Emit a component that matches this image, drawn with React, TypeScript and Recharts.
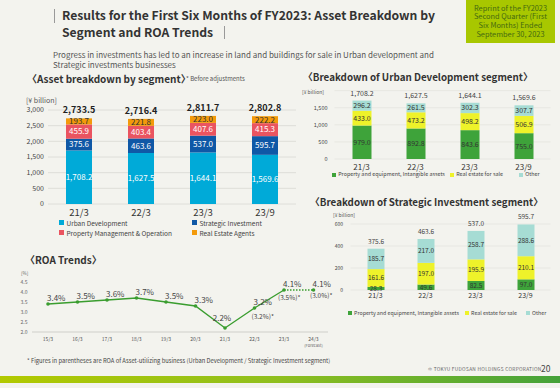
import React from 'react';
import { BarChart, Bar, XAxis, YAxis, CartesianGrid, LabelList, LineChart, Line } from 'recharts';

const FONT = '"Noto Sans CJK JP", "Noto Sans", sans-serif';

// ---- Asset breakdown by segment ----
const periods = ['21/3', '22/3', '23/3', '23/9'];
const urbanDev = [1708.2, 1627.5, 1644.1, 1569.6];
const strategicInv = [375.6, 463.6, 537.0, 595.7];
const propertyMgmt = [455.9, 403.4, 407.6, 415.3];
const realEstateAgents = [193.7, 221.8, 223.0, 222.2];
const assetTotals = [2733.5, 2716.4, 2811.7, 2802.8];
const assetTicks = [0, 500, 1000, 1500, 2000, 2500, 3000];

// ---- Urban Development breakdown ----
const udProperty = [979.0, 892.8, 843.6, 755.0];
const udForSale = [433.0, 473.2, 498.2, 506.9];
const udOther = [296.2, 261.5, 302.3, 307.7];
const udTotals = [1708.2, 1627.5, 1644.1, 1569.6];
const udTicks = [0, 500, 1000, 1500];

// ---- Strategic Investment breakdown ----
const siProperty = [28.3, 49.6, 82.5, 97.0];
const siForSale = [161.6, 197.0, 195.9, 210.1];
const siOther = [185.7, 217.0, 258.7, 288.6];
const siTotals = [375.6, 463.6, 537.0, 595.7];
const siTicks = [0, 200, 400, 600];

// ---- ROA trends ----
const roaPeriods = ['15/3', '16/3', '17/3', '18/3', '19/3', '20/3', '21/3', '22/3', '23/3', '24/3'];
const roaActual = [3.4, 3.5, 3.6, 3.7, 3.5, 3.3, 2.2, 3.2, 4.1, null];
const roaForecast = [null, null, null, null, null, null, null, null, 4.1, 4.1];
const roaAssetUtil = [null, null, null, null, null, null, null, 3.2, 3.5, 3.0];
const roaTicks = [2.0, 2.5, 3.0, 3.5, 4.0, 4.5];

const C = {
  urban: '#00aad8',
  strategic: '#0f58a6',
  pm: '#ea5460',
  agents: '#f39a0a',
  prop: '#3ea33a',
  sale: '#eef22a',
  other: '#a6dcd4',
  line: '#3a9d2f',
};

const assetData = periods.map((p, i) => ({
  period: p,
  urban: urbanDev[i],
  strategic: strategicInv[i],
  pm: propertyMgmt[i],
  agents: realEstateAgents[i],
  total: assetTotals[i],
}));
const udData = periods.map((p, i) => ({
  period: p,
  prop: udProperty[i],
  sale: udForSale[i],
  other: udOther[i],
  total: udTotals[i],
}));
const siData = periods.map((p, i) => ({
  period: p,
  prop: siProperty[i],
  sale: siForSale[i],
  other: siOther[i],
  total: siTotals[i],
}));
const roaData = roaPeriods.map((p, i) => ({
  period: p,
  actual: roaActual[i],
  forecast: roaForecast[i],
  asset: roaAssetUtil[i],
}));

const fmt1 = (v: any) =>
  typeof v === 'number' ? v.toLocaleString('en-US', { minimumFractionDigits: 1, maximumFractionDigits: 1 }) : v;
const fmtInt = (v: any) => (typeof v === 'number' ? v.toLocaleString('en-US') : v);

const abs = (left: number, top: number, extra: React.CSSProperties = {}): React.CSSProperties => ({
  position: 'absolute',
  left,
  top,
  whiteSpace: 'nowrap',
  ...extra,
});

const LegendItem = ({ color, label, left, top, size }: { color: string; label: string; left: number; top: number; size: number }) => (
  <div style={abs(left, top, { display: 'flex', alignItems: 'center', fontSize: size, color: '#444', lineHeight: 1 })}>
    <span style={{ display: 'inline-block', width: size * 0.8, height: size * 0.8, background: color, marginRight: size * 0.35 }} />
    {label}
  </div>
);

// offsets of the parenthesised asset-utilizing ROA labels, by point index
const assetLabelOffset: Record<number, [number, number]> = {
  7: [-3, 10.5],
  8: [-6, 9.5],
  9: [-3.5, 7.5],
};

const roaDot = (kind: 'actual' | 'forecast') => (props: any) => {
  const { cx, cy, index, payload } = props;
  const v = payload ? payload[kind] : null;
  if (v == null || cx == null || cy == null) return <g key={`${kind}-${index}`} />;
  if (kind === 'forecast' && index !== 9) return <g key={`${kind}-${index}`} />;
  const isLow = kind === 'actual' && index === 6;
  const a = payload.asset;
  const off = assetLabelOffset[index];
  return (
    <g key={`${kind}-${index}`}>
      <circle cx={cx} cy={cy} r={1.8} fill={C.line} />
      <text
        x={isLow ? cx - 3 : cx - 1}
        y={isLow ? cy - 7 : cy - 3}
        fontSize={8}
        fill="#444"
        textAnchor={isLow ? 'middle' : 'start'}
      >
        {`${v.toFixed(1)}%`}
      </text>
      {a != null && off && (
        <text x={cx + off[0]} y={cy + off[1]} fontSize={6.5} fill="#444" textAnchor="start">
          {`(${a.toFixed(1)}%)*`}
        </text>
      )}
    </g>
  );
};

const RoaTick = (props: any) => {
  const { x, y, payload } = props;
  return (
    <g>
      <text x={x} y={y + 5} textAnchor="middle" fontSize={5} fill="#555">
        {payload.value}
      </text>
      {payload.value === '24/3' && (
        <text x={x} y={y + 10.5} textAnchor="middle" fontSize={4} fill="#666">
          (Forecast)
        </text>
      )}
    </g>
  );
};

export default function App() {
  return (
    <div
      style={{
        position: 'absolute',
        left: 0,
        top: 0,
        width: 560,
        height: 388,
        background: '#f3f3ee',
        overflow: 'hidden',
        fontFamily: FONT,
        color: '#333',
      }}
    >
      {/* Title */}
      <div style={abs(54, 9, { width: 1, height: 14, background: '#999' })} />
      <div style={abs(62, 7, { fontSize: 12.2, fontWeight: 700, lineHeight: '17px', color: '#333' })}>
        Results for the First Six Months of FY2023: Asset Breakdown by
        <br />
        Segment and ROA Trends
        <span style={{ display: 'inline-block', width: 1, height: 13, background: '#999', marginLeft: 11, verticalAlign: '-2px' }} />
      </div>
      <div
        style={abs(466, 0, {
          width: 89,
          height: 43,
          background: '#a8c700',
          color: '#456a10',
          fontSize: 7.4,
          lineHeight: '8.8px',
          textAlign: 'center',
          paddingTop: 3.5,
          boxSizing: 'border-box',
          whiteSpace: 'normal',
        })}
      >
        Reprint of the FY2023
        <br />
        Second Quarter (First
        <br />
        Six Months) Ended
        <br />
        September 30, 2023
      </div>
      <div style={abs(53, 50, { fontSize: 8, lineHeight: '10px', color: '#555' })}>
        Progress in investments has led to an increase in land and buildings for sale in Urban development and
        <br />
        Strategic investments businesses
      </div>

      {/* Section titles */}
      <div style={abs(27, 73, { fontSize: 10, fontWeight: 700, lineHeight: '12px' })}>〈Asset breakdown by segment〉</div>
      <div style={abs(186, 75, { fontSize: 6, lineHeight: '8px', color: '#555' })}>* Before adjustments</div>
      <div style={abs(303, 71, { fontSize: 9.8, fontWeight: 700, lineHeight: '12px' })}>〈Breakdown of Urban Development segment〉</div>
      <div style={abs(310, 196, { fontSize: 9.8, fontWeight: 700, lineHeight: '12px' })}>〈Breakdown of Strategic Investment segment〉</div>
      <div style={abs(25, 254, { fontSize: 10, fontWeight: 700, lineHeight: '12px' })}>〈ROA Trends〉</div>

      {/* Asset breakdown chart */}
      <div style={abs(26, 96, { fontSize: 7, color: '#555', lineHeight: '8px' })}>[¥ billion]</div>
      <div style={abs(0, 85)}>
        <BarChart width={300} height={135} data={assetData} margin={{ top: 25, right: 4, left: 0, bottom: 0 }}>
          <CartesianGrid vertical={false} stroke="#d8d8d3" strokeWidth={0.8} />
          <XAxis
            dataKey="period"
            tickLine={false}
            axisLine={false}
            tickSize={0}
            tickMargin={5}
            height={16}
            interval={0}
            tick={{ fontSize: 9.5, fill: '#333' }}
          />
          <YAxis
            domain={[0, 3000]}
            ticks={assetTicks}
            interval={0}
            tickLine={false}
            axisLine={false}
            tickSize={0}
            tickMargin={4}
            width={48}
            tickFormatter={fmtInt}
            tick={{ fontSize: 7, fill: '#444' }}
          />
          <Bar dataKey="urban" stackId="a" fill={C.urban} barSize={26} isAnimationActive={false}>
            <LabelList dataKey="urban" position="center" fill="#fff" fontSize={8} formatter={fmt1} />
          </Bar>
          <Bar dataKey="strategic" stackId="a" fill={C.strategic} barSize={26} isAnimationActive={false}>
            <LabelList dataKey="strategic" position="center" fill="#fff" fontSize={8} formatter={fmt1} />
          </Bar>
          <Bar dataKey="pm" stackId="a" fill={C.pm} barSize={26} isAnimationActive={false}>
            <LabelList dataKey="pm" position="center" fill="#fff" fontSize={8} formatter={fmt1} />
          </Bar>
          <Bar dataKey="agents" stackId="a" fill={C.agents} barSize={26} isAnimationActive={false}>
            <LabelList dataKey="agents" position="center" fill="#333" fontSize={8} formatter={fmt1} />
            <LabelList dataKey="total" position="top" offset={5} fill="#222" fontSize={9} fontWeight={700} formatter={fmt1} />
          </Bar>
        </BarChart>
      </div>
      <LegendItem color={C.urban} label="Urban Development" left={59} top={219.5} size={6.5} />
      <LegendItem color={C.strategic} label="Strategic Investment" left={192} top={219.5} size={6.5} />
      <LegendItem color={C.pm} label="Property Management & Operation" left={59} top={229.5} size={6.5} />
      <LegendItem color={C.agents} label="Real Estate Agents" left={192} top={229.5} size={6.5} />

      {/* Urban Development chart */}
      <div style={abs(302, 89, { fontSize: 5, color: '#555', lineHeight: '6px' })}>[¥ billion]</div>
      <div style={abs(290, 80)}>
        <BarChart width={262} height={93} data={udData} margin={{ top: 10.6, right: 1.5, left: 0, bottom: 0 }}>
          <CartesianGrid vertical={false} stroke="#e2e2dd" strokeWidth={0.7} />
          <XAxis
            dataKey="period"
            tickLine={false}
            axisLine={false}
            tickSize={0}
            tickMargin={5}
            height={14}
            interval={0}
            tick={{ fontSize: 8, fill: '#333' }}
          />
          <YAxis
            domain={[0, 2000]}
            ticks={udTicks}
            interval={0}
            tickLine={false}
            axisLine={false}
            tickSize={0}
            tickMargin={7}
            width={44.5}
            tickFormatter={fmtInt}
            tick={{ fontSize: 5.5, fill: '#444' }}
          />
          <Bar dataKey="prop" stackId="u" fill={C.prop} barSize={19} isAnimationActive={false}>
            <LabelList dataKey="prop" position="center" fill="#333" fontSize={7} formatter={fmt1} />
          </Bar>
          <Bar dataKey="sale" stackId="u" fill={C.sale} barSize={19} isAnimationActive={false}>
            <LabelList dataKey="sale" position="center" fill="#333" fontSize={7} formatter={fmt1} />
          </Bar>
          <Bar dataKey="other" stackId="u" fill={C.other} barSize={19} isAnimationActive={false}>
            <LabelList dataKey="other" position="center" fill="#333" fontSize={7} formatter={fmt1} />
            <LabelList dataKey="total" position="top" offset={5} fill="#444" fontSize={7} formatter={fmt1} />
          </Bar>
        </BarChart>
      </div>
      <LegendItem color={C.prop} label="Property and equipment, Intangible assets" left={332} top={172} size={5.4} />
      <LegendItem color={C.sale} label="Real estate for sale" left={450} top={172} size={5.4} />
      <LegendItem color={C.other} label="Other" left={519} top={172} size={5.4} />

      {/* Strategic Investment chart */}
      <div style={abs(333, 212, { fontSize: 5, color: '#555', lineHeight: '6px' })}>[¥ billion]</div>
      <div style={abs(300, 205)}>
        <BarChart width={252} height={99} data={siData} margin={{ top: 19, right: 1.5, left: 0, bottom: 0 }}>
          <CartesianGrid vertical={false} stroke="#e2e2dd" strokeWidth={0.7} />
          <XAxis
            dataKey="period"
            tickLine={false}
            axisLine={false}
            tickSize={0}
            tickMargin={3.5}
            height={14}
            interval={0}
            tick={{ fontSize: 7, fill: '#333' }}
          />
          <YAxis
            domain={[0, 600]}
            ticks={siTicks}
            interval={0}
            tickLine={false}
            axisLine={false}
            tickSize={0}
            tickMargin={7.5}
            width={50.5}
            tick={{ fontSize: 5, fill: '#444' }}
          />
          <Bar dataKey="prop" stackId="s" fill={C.prop} barSize={17} isAnimationActive={false}>
            <LabelList dataKey="prop" position="center" fill="#333" fontSize={6.5} formatter={fmt1} />
          </Bar>
          <Bar dataKey="sale" stackId="s" fill={C.sale} barSize={17} isAnimationActive={false}>
            <LabelList dataKey="sale" position="center" fill="#333" fontSize={6.5} formatter={fmt1} />
          </Bar>
          <Bar dataKey="other" stackId="s" fill={C.other} barSize={17} isAnimationActive={false}>
            <LabelList dataKey="other" position="center" fill="#333" fontSize={6.5} formatter={fmt1} />
            <LabelList dataKey="total" position="top" offset={5} fill="#444" fontSize={6.5} formatter={fmt1} />
          </Bar>
        </BarChart>
      </div>
      <LegendItem color={C.prop} label="Property and equipment, Intangible assets" left={348} top={310.5} size={5.3} />
      <LegendItem color={C.sale} label="Real estate for sale" left={465} top={310.5} size={5.3} />
      <LegendItem color={C.other} label="Other" left={526} top={310.5} size={5.3} />

      {/* ROA chart */}
      <div style={abs(21, 271, { fontSize: 4.5, color: '#666', lineHeight: '5px' })}>[%]</div>
      <div style={abs(0, 270)}>
        <LineChart width={340} height={80} data={roaData} margin={{ top: 12, right: 12, left: 0, bottom: 0 }}>
          <XAxis
            dataKey="period"
            tickLine={false}
            axisLine={{ stroke: '#cfcfca', strokeWidth: 1 }}
            tickSize={0}
            tickMargin={4}
            height={18}
            interval={0}
            padding={{ left: 16, right: 14.5 }}
            tick={<RoaTick />}
          />
          <YAxis
            domain={[2, 4.5]}
            ticks={roaTicks}
            interval={0}
            tickLine={false}
            axisLine={false}
            tickSize={0}
            tickMargin={4.5}
            width={32}
            tickFormatter={(v: number) => v.toFixed(1)}
            tick={{ fontSize: 5, fill: '#666' }}
          />
          <Line
            dataKey="actual"
            stroke={C.line}
            strokeWidth={1.4}
            dot={roaDot('actual')}
            activeDot={false}
            isAnimationActive={false}
          />
          <Line
            dataKey="forecast"
            stroke={C.line}
            strokeWidth={1.4}
            strokeDasharray="1.5 1.5"
            dot={roaDot('forecast')}
            activeDot={false}
            isAnimationActive={false}
          />
        </LineChart>
      </div>

      {/* Footer */}
      <div style={abs(27, 357, { fontSize: 5.8, lineHeight: '8px', color: '#444' })}>
        * Figures in parentheses are ROA of Asset-utilizing business (Urban Development / Strategic Investment segment)
      </div>
      <div style={abs(428, 366, { fontSize: 4.8, lineHeight: '6px', color: '#666', letterSpacing: 0.3 })}>
        © TOKYU FUDOSAN HOLDINGS CORPORATION
      </div>
      <div style={abs(541, 363, { fontSize: 8.5, lineHeight: '10px', color: '#444' })}>20</div>
      <div
        style={abs(0, 376, {
          width: 560,
          height: 7,
          background: 'linear-gradient(to right, #b2c900 0%, #8fbf1e 50%, #45a23a 100%)',
        })}
      />
    </div>
  );
}
